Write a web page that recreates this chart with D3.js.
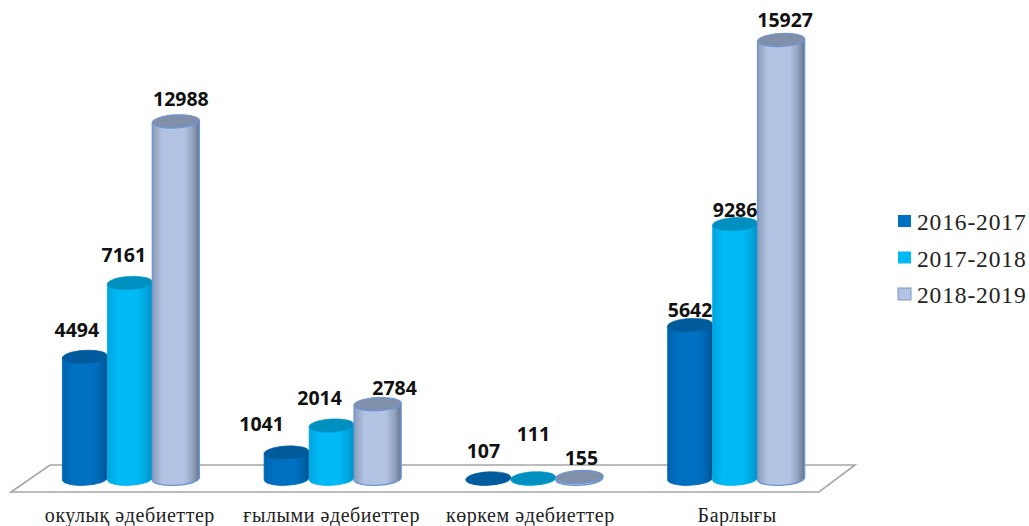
<!DOCTYPE html>
<html><head><meta charset="utf-8">
<script src="https://cdnjs.cloudflare.com/ajax/libs/d3/7.8.5/d3.min.js"></script>
<style>html,body{margin:0;padding:0;background:#fff;overflow:hidden}svg{display:block}</style>
</head><body><div id="c"></div>
<script>
const categories = ["окулық әдебиеттер","ғылыми әдебиеттер","көркем әдебиеттер","Барлығы"];
const seriesNames = ["2016-2017","2017-2018","2018-2019"];
const values2016 = [4494,1041,107,5642];
const values2017 = [7161,2014,111,9286];
const values2018 = [12988,2784,155,15927];
const allValues = [values2016,values2017,values2018];

const W=1029,H=526;
const svg=d3.select("#c").append("svg").attr("width",W).attr("height",H);
const x0=d3.scaleBand().domain(categories).range([29,836]);
const x1=d3.scaleBand().domain(seriesNames).range([x0.bandwidth()/2-67.5,x0.bandwidth()/2+67.5]);
const y=d3.scaleLinear().domain([0,15927]).range([481.3,40]);

const palette=[
 {side:"#0063ad",mid:"#0070c0",dark:"#004f8c",top:"#005a9c",stroke:"#0068b4"},
 {side:"#00a4dc",mid:"#00b9f5",dark:"#0090c4",top:"#0090c0",stroke:"#00aee8"},
 {side:"#8c9cb8",mid:"#b2c3e4",dark:"#66738a",top:"#8090aa",stroke:"#6f96d2"}
];
const defs=svg.append("defs");
palette.forEach((p,i)=>{
  const g=defs.append("linearGradient").attr("id","g"+i).attr("x1",0).attr("x2",1).attr("y1",0).attr("y2",0);
  [[0,p.side],[.22,p.mid],[.68,p.mid],[.88,p.side],[1,p.dark]].forEach(s=>g.append("stop").attr("offset",s[0]).attr("stop-color",s[1]));
});

// floor
svg.append("path").attr("d","M11,492L819,492L855,465L50,465Z")
  .attr("fill","#fff").attr("stroke","#a6a6a6").attr("stroke-width",1.6);

const ry=6.5, tilt=-3;
const labelShift=[ // dx, dy from bar top, by series then category
 [[-8,-20],[-25,-21.5],[-5,-20],[0,-8]],
 [[-6,-21],[-12,-20.5],[0,-37],[0,-7]],
 [[6,-15],[18,-9],[3,-12],[5,-13]]
];
categories.forEach((c,ci)=>{
  seriesNames.forEach((s,si)=>{
    const v=allValues[si][ci], p=palette[si];
    const rx=si==2?23.5:22.5;
    const cx=x0(c)+x1(s)+x1.bandwidth()/2+(si==2?1:0), yt=y(v), yb=y(0)-2.5;
    const g=svg.append("g");
    const d=`M${cx-rx},${yt+1}L${cx-rx},${yb+1}A${rx},${ry} ${tilt} 0 0 ${cx+rx},${yb-1}L${cx+rx},${yt-1}Z`;
    g.append("path").attr("d",d).attr("fill",`url(#g${si})`).attr("stroke",p.stroke).attr("stroke-width",si==2?1.4:.8);
    g.append("ellipse").attr("cx",cx).attr("cy",yt).attr("rx",rx).attr("ry",ry)
      .attr("transform",`rotate(${tilt} ${cx} ${yt})`)
      .attr("fill",p.top).attr("stroke",si==2?p.stroke:p.top).attr("stroke-width",si==2?1.2:.6);
  });
});
// value labels
categories.forEach((c,ci)=>{
  seriesNames.forEach((s,si)=>{
    const v=allValues[si][ci];
    const cx=x0(c)+x1(s)+x1.bandwidth()/2;
    const sh=labelShift[si][ci];
    svg.append("text").attr("x",cx+sh[0]).attr("y",y(v)+sh[1]).attr("text-anchor","middle")
      .attr("font-family","'Open Sans',sans-serif").attr("font-weight",700).attr("font-size",19.5)
      .attr("fill","#111").text(v);
  });
});
// category labels
const catDx=[0,0,-3,2];
categories.forEach((c,i)=>{
  svg.append("text").attr("x",x0(c)+x0.bandwidth()/2+catDx[i]).attr("y",522).attr("text-anchor","middle")
    .attr("font-family","'Liberation Serif',serif").attr("font-size",20).attr("letter-spacing",.55).attr("fill","#222").text(c);
});
// legend
const legY=d3.scalePoint().domain(seriesNames).range([221,294]);
seriesNames.forEach((s,i)=>{
  svg.append("rect").attr("x",898).attr("y",legY(s)-6).attr("width",13).attr("height",12)
    .attr("fill",palette[i].mid).attr("stroke",i==2?"#7f96c0":"none");
  svg.append("text").attr("x",917).attr("y",legY(s)+9).attr("font-family","'Liberation Serif',serif")
    .attr("font-size",23.5).attr("letter-spacing",.85).attr("fill","#222").text(s);
});
</script></body></html>
